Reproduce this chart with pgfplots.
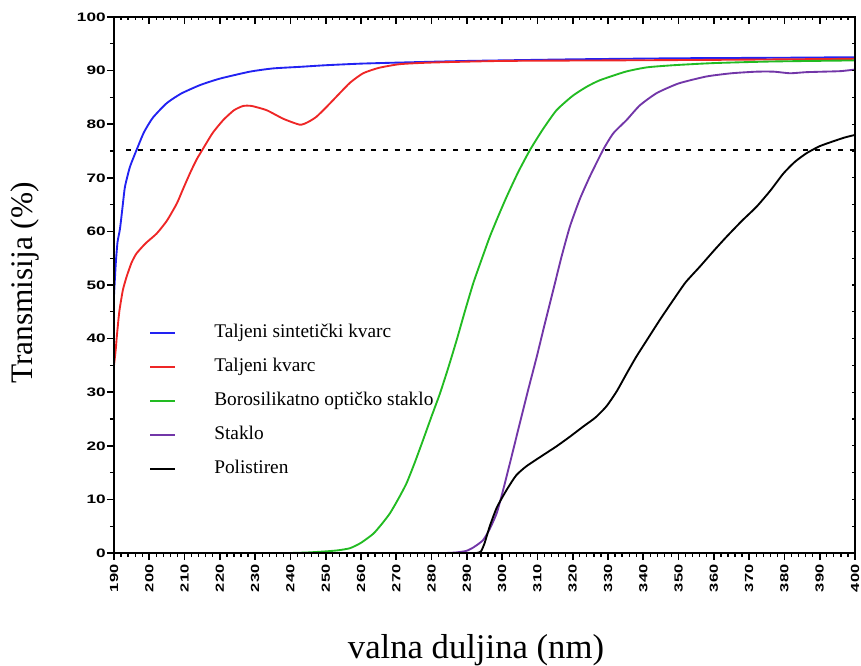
\documentclass[border=0pt]{standalone}
\usepackage{fontspec}
\setmainfont{Liberation Serif}
\newfontfamily\tickfont[FakeStretch=1.4]{Liberation Sans Bold}
\usepackage{pgfplots}
\pgfplotsset{compat=1.18}
\definecolor{cblue}{HTML}{2222F2}
\definecolor{cred}{HTML}{EE2626}
\definecolor{cgreen}{HTML}{22BB22}
\definecolor{cpurple}{HTML}{7236A8}
\begin{document}
\begin{tikzpicture}
\begin{axis}[
  scale only axis, width=555.75pt, height=402pt,
  xmin=190, xmax=400, ymin=0, ymax=100,
  xtick={190,200,...,400}, ytick={0,10,...,100},
  minor x tick num=4, minor y tick num=1,
  xtick pos=left, ytick pos=left, tick align=outside,
  major tick length=5.25pt, minor tick length=3pt,
  major tick style={black, line width=1.2pt},
  minor tick style={black, line width=1pt},
  axis line style={line width=1.6pt},
  x tick label style={font=\tickfont\fontsize{8.8}{9}\selectfont, rotate=90, anchor=east, yshift=0pt},
  y tick label style={font=\tickfont\fontsize{9.2}{10}\selectfont, xshift=2.5pt},
  /pgf/number format/assume math mode=true,
  /pgf/number format/set thousands separator={},
  legend style={draw=none, fill=none, at={(axis cs:198.8,43.2)}, anchor=north west,
    font=\fontsize{14.5}{17}\selectfont, row sep=12pt, column sep=0pt,
    nodes={inner sep=0pt, text height=10pt, text depth=3.5pt}},
  legend cell align=left,
  legend image code/.code={\draw[#1, line width=1.6pt] (0pt,0pt) -- (18.75pt,0pt); \path (47.25pt,0pt);},
  every axis plot/.append style={smooth, tension=0.35},
]
\coordinate (O) at (rel axis cs:0,0);
\addplot[cblue, line width=1.4pt] coordinates {
(190,48) (190.5,54) (191,58) (191.7,60.5) (192.5,65) (193.1,68.3) (194.5,72) (196.4,75.2)
(198.5,78.5) (201,81.2) (204.9,83.9) (209,85.7) (214.4,87.3) (220,88.5) (228.5,89.8)
(235,90.4) (242.7,90.7) (250,91.0) (260,91.3) (271,91.5) (290,91.8) (320,92.1)
(350,92.3) (380,92.4) (400,92.5)};
\addlegendentry{Taljeni sintetički kvarc}
\addplot[cred, line width=1.4pt] coordinates {
(190,35) (190.5,38) (190.8,40.4) (191.5,45) (192.5,49) (193.6,51.6) (195,54.2) (196.4,55.9)
(199,57.8) (202.1,59.6) (205,62) (207.8,65.2) (209.5,67.8) (211.5,70.8) (213.4,73.4)
(215.3,75.5) (218,78.4) (221,80.8) (224,82.6) (226.6,83.4) (229,83.4) (233.3,82.6)
(238,81.0) (242.7,79.9) (245,80.4) (247.4,81.4) (250.5,83.4) (254,85.8) (257,87.8)
(260.6,89.5) (265,90.5) (271,91.2) (280,91.5) (300,91.8) (330,91.9) (360,92.0) (400,92.2)};
\addlegendentry{Taljeni kvarc}
\addplot[cgreen, line width=1.4pt] coordinates {
(190,0) (200,0) (210,0) (220,0) (230,0) (236,0) (240,0) (245,0.1) (250,0.3) (253.5,0.5) (256.9,0.9) (260,1.9) (263.5,3.6) (266,5.5) (268.2,7.4)
(270.5,10) (272.9,13) (275.2,16.8) (277.6,21.1) (280,25.5) (282.4,29.8) (284.8,34.7)
(287.1,39.7) (289.4,45) (291.8,50.3) (294.2,54.8) (296.5,59) (299,63) (301.3,66.5)
(304.5,71) (307.9,75.2) (311.5,79) (315.4,82.6) (320,85.3) (324,87) (327.7,88.2)
(335,89.8) (341,90.6) (348.5,91.0) (360,91.4) (376.7,91.7) (400,91.9)};
\addlegendentry{Borosilikatno optičko staklo}
\addplot[cpurple, line width=1.4pt] coordinates {
(190,0) (200,0) (220,0) (240,0) (260,0) (270,0) (276,0) (280,0) (284,0) (287,0.1) (289.9,0.4) (292,1.1) (294.6,2.4) (296.5,4.5) (298.5,7.5)
(300.3,11.8) (302.6,17.8) (305,24.2) (307.4,30.5) (309.8,36.6) (312.1,42.8) (314.5,49.1)
(316.8,55.2) (319.2,60.9) (322,66) (324.9,70.3) (328.6,75.2) (331.5,78.3) (335.3,80.8)
(339,83.5) (343.8,85.8) (350,87.6) (357.9,88.9) (365,89.5) (372.1,89.8) (377,89.8)
(381.6,89.5) (386,89.7) (391,89.8) (396,89.9) (400,90.2)};
\addlegendentry{Staklo}
\addplot[black, line width=1.4pt] coordinates {
(190,0) (200,0) (220,0) (240,0) (260,0) (275,0) (283,0) (288,0) (291,0) (292.8,0) (294,0.3) (295,1.8) (296.5,5) (298.5,8.5) (301.3,11.8) (304,14.5) (306.9,16.2)
(311,18) (315.4,19.9) (319,21.6) (323,23.6) (326.5,25.3) (329.6,27.4) (332.5,30.2)
(335.3,33.5) (338,36.6) (341,39.7) (344.8,43.6) (348.5,47.2) (352,50.5) (356,53.4)
(360,56.4) (363.6,59) (368,62) (372.1,64.6) (376,67.6) (379.7,70.8) (383,73)
(386.3,74.6) (390,75.9) (393.8,76.8) (397,77.5) (400,78)};
\addlegendentry{Polistiren}
\addplot[black, line width=1.5pt, dash pattern=on 3.75pt off 5pt, forget plot, sharp plot] coordinates {(193.5,75.2) (400,75.2)};
\end{axis}
\begin{axis}[
  scale only axis, width=555.75pt, height=402pt,
  xmin=190, xmax=400, ymin=0, ymax=100,
  xtick={190,200,...,400}, minor x tick num=4,
  ytick={0,100}, minor ytick={5,10,...,95},
  xtick pos=right, ytick pos=right, tick align=inside,
  xticklabels={}, yticklabels={},
  major tick length=5.25pt, minor tick length=2.5pt,
  major tick style={black, line width=1.2pt},
  minor tick style={black, line width=1pt},
  axis line style={line width=1.6pt},
]
\end{axis}
\node[rotate=90, font=\fontsize{23.5}{27}\selectfont] at ([shift={(-66.75pt,202.5pt)}]O) {Transmisija (\%)};
\node[font=\fontsize{26}{30}\selectfont] at ([shift={(271.5pt,-72.75pt)}]O) {valna duljina (nm)};
\pgfresetboundingbox
\path[use as bounding box] ([shift={(-85.5pt,-84.75pt)}]O) rectangle ([shift={(560.25pt,414.75pt)}]O);
\end{tikzpicture}
\end{document}
